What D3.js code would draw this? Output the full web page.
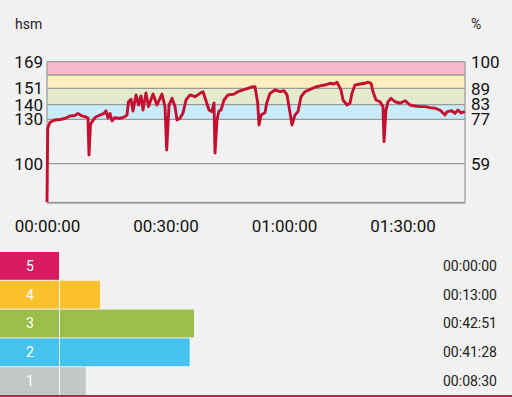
<!DOCTYPE html>
<html>
<head>
<meta charset="utf-8">
<script src="https://cdn.jsdelivr.net/npm/d3@7"></script>
<style>
  body { margin: 0; background: #f1f1f1; }
  svg { display: block; font-family: Roboto, "Noto Sans", sans-serif; }
</style>
</head>
<body>
<script>
// heart rate samples (minutes, bpm)
var hrMinutes = [0, 0.08, 0.18, 0.76, 2.03, 3.29, 4.56, 5.82, 7.09, 7.85, 8.86, 9.87, 10.38, 10.63, 11.01,
  12.15, 13.42, 14.43, 14.94, 15.44, 15.95, 16.46, 17.22, 18.48, 19.75, 20.25, 20.63, 21.27, 21.77, 22.53,
  23.16, 23.8, 24.3, 25.06, 25.7, 26.84, 27.85, 29.11, 29.87, 30.3, 30.89, 31.65, 32.41, 32.91, 33.67,
  34.43, 35.19, 36.2, 37.47, 38.73, 39.49, 40.25, 41.01, 41.77, 42.28, 42.53, 43.04, 43.54, 44.05, 44.81,
  45.82, 47.34, 48.35, 49.62, 50.89, 51.9, 52.66, 53.34, 53.67, 54.18, 55.19, 55.62, 56.46, 57.72, 58.99,
  60, 60.76, 61.52, 62.03, 62.78, 63.54, 64.3, 65.32, 66.58, 67.85, 69.11, 70.63, 71.65, 72.66, 73.42,
  74.43, 74.94, 75.95, 76.71, 77.22, 77.97, 79.24, 80.51, 81.27, 82.03, 82.53, 83.29, 84.3, 85.06, 85.32,
  85.82, 86.33, 87.09, 88.1, 89.37, 90.63, 91.9, 93.16, 94.43, 95.7, 96.96, 98.23, 99.49, 100.76, 101.27,
  102.53, 103.29, 104.05, 104.81, 105.82];
var hrBpm = [74, 96, 124, 128, 129.6, 129.9, 130.6, 132.3, 132.6, 134, 132.3, 131.6, 130.9, 105.9, 126.8,
  131.2, 132.9, 134, 135.8, 130.9, 134, 128.9, 131.2, 130.6, 131.9, 132.9, 141.9, 143.6, 135.6, 146.5,
  139.7, 145.8, 136.3, 147.8, 138.6, 147.1, 139.7, 147.1, 138.6, 109.3, 139.7, 144.2, 138.6, 129.6, 130.7,
  134.3, 143.1, 146.5, 145.3, 147.6, 148.7, 142.6, 136.3, 135.2, 141.1, 107.2, 129.6, 135.8, 136.3, 143.1,
  146.5, 147.1, 148.7, 149.9, 151, 151.9, 152.1, 141.1, 126.2, 132.9, 134.5, 141.1, 147.6, 149.9, 148.7,
  149.4, 146.5, 134.5, 126.2, 132.9, 135.2, 145.3, 148.7, 150.3, 151.7, 152.6, 153.4, 154.4, 153.9, 155.1,
  149.9, 143.1, 139.7, 140.9, 147.8, 153.2, 153.9, 154.4, 155.1, 154.4, 148.7, 143.1, 141.9, 138.6, 114.9,
  136.3, 141.9, 144.2, 141.9, 140.9, 142.6, 139.7, 139, 138.6, 138.6, 137.9, 137.5, 136.3, 132.9, 135.2,
  135.8, 134.1, 136.3, 134.3, 135.2];

var totalMinutes = 105.82;
var maxHr = 169;
var bandEdges = [169, 160, 151, 140, 130];
var hsmTicks = [169, 151, 140, 130, 100];
var pctTicks = [100, 89, 83, 77, 59];
var timeTicks = [0, 30, 60, 90];

var zones = ["5", "4", "3", "2", "1"];
var zoneMinutes = [0, 13, 42.85, 41.47, 8.5];
var zoneTimes = ["00:00:00", "00:13:00", "00:42:51", "00:41:28", "00:08:30"];

var bandColors = ["#f5b8cd", "#fdeebb", "#e3ebcc", "#c9ecf9"];
var zoneColors = ["#d81b60", "#fbc02d", "#9cbf4b", "#45c3ee", "#c4c7c8"];

var W = 512, H = 398;
var plot = {left: 47, right: 465, top: 61.7, bottom: 202.7};

var svg = d3.select("body").append("svg")
    .attr("width", W)
    .attr("height", H);

var x = d3.scaleLinear().domain([0, totalMinutes]).range([plot.left, plot.right]);
var y = d3.scaleLinear().domain([73.6, maxHr]).range([plot.bottom, plot.top]);
var yPct = d3.scaleLinear().domain([73.6 / maxHr * 100, 100]).range([plot.bottom, plot.top]);

// zone bands
var bands = d3.pairs(bandEdges);
svg.selectAll(".band")
    .data(bands)
    .enter().append("rect")
      .attr("class", "band")
      .attr("x", plot.left)
      .attr("width", plot.right - plot.left)
      .attr("y", function(d) { return y(d[0]); })
      .attr("height", function(d) { return y(d[1]) - y(d[0]); })
      .attr("fill", function(d, i) { return bandColors[i]; });

// grid lines
var gridVals = bandEdges.concat([100, y.domain()[0]]);
svg.selectAll(".grid")
    .data(gridVals)
    .enter().append("line")
      .attr("class", "grid")
      .attr("x1", plot.left)
      .attr("x2", plot.right)
      .attr("y1", function(d) { return y(d); })
      .attr("y2", function(d) { return y(d); })
      .attr("stroke", "#9a9a9a")
      .attr("stroke-width", function(d, i) { return i === gridVals.length - 1 ? 2 : 1.3; });

// side borders
svg.selectAll(".border")
    .data([plot.left, plot.right])
    .enter().append("line")
      .attr("x1", function(d) { return d; })
      .attr("x2", function(d) { return d; })
      .attr("y1", plot.top)
      .attr("y2", plot.bottom)
      .attr("stroke", "#a0a0a0")
      .attr("stroke-width", 1.3);

// heart rate line
var hr = hrMinutes.map(function(t, i) { return {t: t, v: hrBpm[i]}; });
svg.append("path")
    .datum(hr)
    .attr("fill", "none")
    .attr("stroke", "#c50f30")
    .attr("stroke-width", 2.9)
    .attr("stroke-linejoin", "round")
    .attr("d", d3.line()
      .x(function(d) { return x(d.t); })
      .y(function(d) { return y(d.v); }));

// axes
var leftAxis = svg.append("g")
    .attr("transform", "translate(" + plot.left + ",0)")
    .call(d3.axisLeft(y).tickValues(hsmTicks).tickSize(0).tickPadding(4));
var rightAxis = svg.append("g")
    .attr("transform", "translate(" + plot.right + ",0)")
    .call(d3.axisRight(yPct).tickValues(pctTicks).tickSize(0).tickPadding(6));

function fmtTime(m) {
  var h = Math.floor(m / 60), mm = m % 60;
  return d3.format("02")(h) + ":" + d3.format("02")(mm) + ":00";
}
var bottomAxis = svg.append("g")
    .attr("transform", "translate(0," + plot.bottom + ")")
    .call(d3.axisBottom(x).tickValues(timeTicks).tickFormat(fmtTime).tickSize(0).tickPadding(17));

[leftAxis, rightAxis, bottomAxis].forEach(function(g) {
  g.select(".domain").remove();
  g.selectAll("text")
    .attr("font-family", "Roboto, sans-serif")
    .attr("font-size", 17)
    .attr("fill", "#111");
});

svg.append("text")
    .attr("x", 15).attr("y", 28.5)
    .attr("font-size", 14).attr("fill", "#222")
    .text("hsm");
svg.append("text")
    .attr("x", 471).attr("y", 28.5)
    .attr("font-size", 14).attr("fill", "#222")
    .text("%");

// zone time bars
var yBand = d3.scaleBand().domain(zones).range([252, 395]).paddingInner(0.035);
var xBar = d3.scaleLinear().domain([0, 42.85]).range([59, 194]);

var rows = svg.selectAll(".zone")
    .data(zones)
    .enter().append("g")
      .attr("class", "zone")
      .attr("transform", function(d) { return "translate(0," + yBand(d) + ")"; });

rows.append("rect")
    .attr("x", 0)
    .attr("width", function(d, i) { return xBar(zoneMinutes[i]); })
    .attr("height", yBand.bandwidth())
    .attr("fill", function(d, i) { return zoneColors[i]; });

rows.append("text")
    .attr("x", 30)
    .attr("y", yBand.bandwidth() / 2)
    .attr("dy", "0.35em")
    .attr("text-anchor", "middle")
    .attr("font-size", 14)
    .attr("fill", "#fff")
    .text(function(d) { return d; });

rows.append("text")
    .attr("x", 497)
    .attr("y", yBand.bandwidth() / 2)
    .attr("dy", "0.35em")
    .attr("text-anchor", "end")
    .attr("font-size", 14)
    .attr("fill", "#222")
    .text(function(d, i) { return zoneTimes[i]; });

svg.append("line")
    .attr("x1", 59.5).attr("x2", 59.5)
    .attr("y1", 252).attr("y2", 395)
    .attr("stroke", "#f4f4f4")
    .attr("stroke-width", 1);

svg.append("line")
    .attr("x1", 0).attr("x2", W)
    .attr("y1", 396).attr("y2", 396)
    .attr("stroke", "#c81e4a")
    .attr("stroke-width", 2);
</script>
</body>
</html>
